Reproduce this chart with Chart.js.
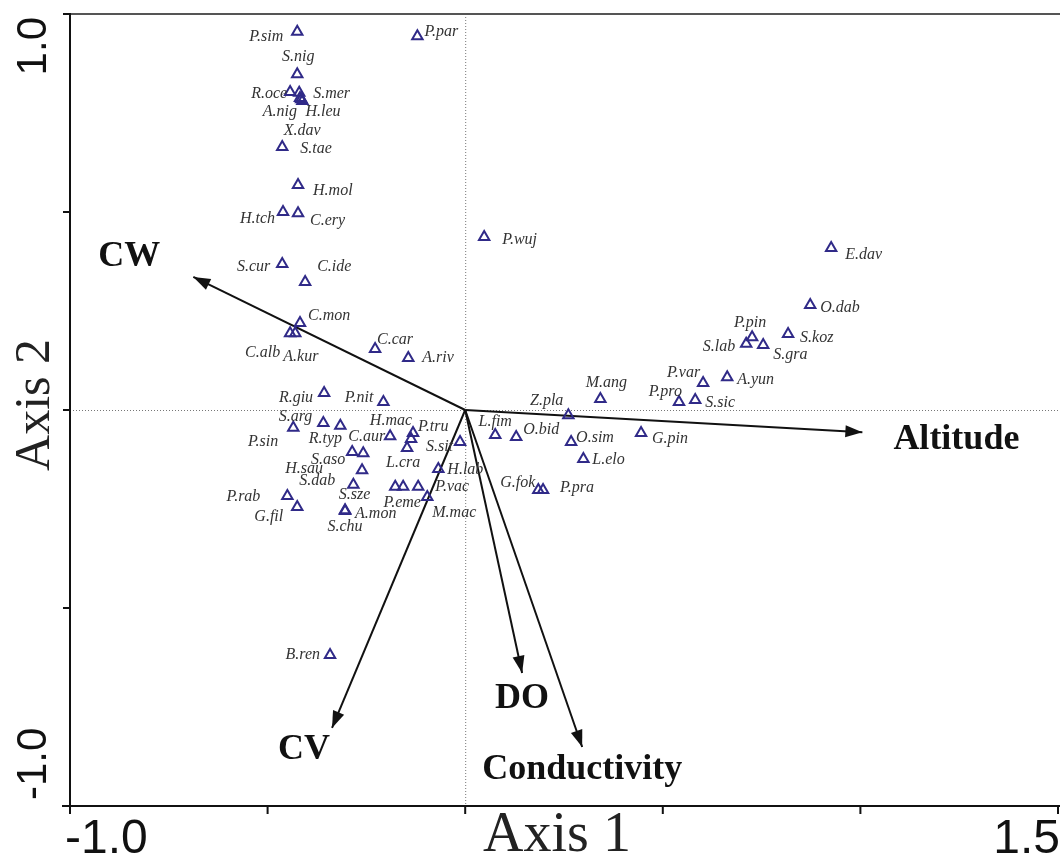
<!DOCTYPE html>
<html>
<head>
<meta charset="utf-8">
<script src="https://cdn.jsdelivr.net/npm/chart.js"></script>
<style>
  html, body { margin: 0; padding: 0; background: #fff; }
  canvas { display: block; }
</style>
</head>
<body>
<canvas id="cca" width="1060" height="862"></canvas>
<script>
// species scores (axis 1, axis 2)
const speciesNames = [
  'P.sim', 'P.par', 'S.nig', 'R.oce', 'S.mer', 'A.nig', 'H.leu', 'X.dav', 'S.tae', 'H.mol',
  'H.tch', 'C.ery', 'S.cur', 'C.ide', 'C.mon', 'C.alb', 'A.kur', 'C.car', 'A.riv', 'R.giu',
  'P.nit', 'P.sin', 'S.arg', 'R.typ', 'C.aur', 'H.mac', 'P.tru', 'L.cra', 'S.sit', 'S.aso',
  '', 'H.sau', 'S.dab', 'H.lab', 'S.sze', 'P.eme', 'P.vac', 'M.mac', 'P.rab', 'G.fil',
  'A.mon', 'S.chu', 'B.ren', 'P.wuj', 'E.dav', 'O.dab', 'P.pin', 'S.lab', 'S.gra', 'S.koz',
  'P.var', 'A.yun', 'M.ang', 'P.pro', 'S.sic', 'Z.pla', 'L.fim', 'O.bid', 'O.sim', 'G.pin',
  'L.elo', 'G.fok', 'P.pra'
];
const speciesX = [
  -0.425, -0.121, -0.425, -0.443, -0.420, -0.418, -0.412, -0.415, -0.463, -0.423,
  -0.461, -0.423, -0.463, -0.405, -0.418, -0.443, -0.430, -0.228, -0.144, -0.357,
  -0.207, -0.435, -0.359, -0.316, -0.190, -0.132, -0.137, -0.147, -0.013, -0.286,
  -0.258, -0.261, -0.283, -0.068, -0.177, -0.157, -0.119, -0.096, -0.450, -0.425,
  -0.304, -0.304, -0.342, 0.048, 0.926, 0.873, 0.726, 0.711, 0.754, 0.817,
  0.602, 0.663, 0.342, 0.541, 0.582, 0.261, 0.076, 0.129, 0.268, 0.445,
  0.299, 0.185, 0.197
];
const speciesY = [
  0.955, 0.944, 0.848, 0.803, 0.801, 0.788, 0.780, 0.785, 0.664, 0.568,
  0.500, 0.497, 0.369, 0.323, 0.220, 0.194, 0.194, 0.154, 0.131, 0.043,
  0.020, -0.045, -0.033, -0.040, -0.066, -0.058, -0.073, -0.096, -0.081, -0.106,
  -0.109, -0.152, -0.189, -0.149, -0.194, -0.194, -0.194, -0.220, -0.217, -0.245,
  -0.253, -0.255, -0.619, 0.437, 0.409, 0.265, 0.184, 0.167, 0.164, 0.192,
  0.068, 0.083, 0.028, 0.020, 0.025, -0.013, -0.063, -0.068, -0.081, -0.058,
  -0.124, -0.202, -0.202
];

// environmental vectors
const envNames = ['CW', 'Altitude', 'CV', 'DO', 'Conductivity'];
const envX = [-0.688, 1.005, -0.337, 0.144, 0.296];
const envY = [0.336, -0.056, -0.803, -0.664, -0.851];

const xTicks = [-1.0, -0.5, 0, 0.5, 1.0, 1.5];
const yTicks = [-1.0, -0.5, 0, 0.5, 1.0];
const xTickLabels = ['-1.0', '', '', '', '', '1.5'];
const yTickLabels = ['-1.0', '', '', '', '1.0'];

// label placement: [align, dx, dy] in pixels from the point
const labelPlace = [
  ['r', -14, 5], ['l', 7, -4], ['c', 1, -17], ['r', -3, 2], ['l', 14, 1], ['r', -3, 14], ['l', 3, 11], ['c', 1, 32], ['l', 18, 2], ['l', 15, 6],
  ['r', -8, 7], ['l', 12, 8], ['r', -12, 3], ['l', 12, -15], ['l', 8, -7], ['r', -10, 20], ['l', -12, 24], ['l', 2, -9], ['l', 14, 0], ['r', -11, 5],
  ['r', -10, -4], ['r', -15, 14], ['r', -11, -6], ['c', -15, 13], ['r', -5, 1], ['r', -1, -12], ['l', 7, -12], ['c', -4, 15], ['r', -7, 5], ['r', -7, 8],
  ['c', 0, 0], ['r', -39, -1], ['r', -18, -4], ['l', 9, 1], ['r', -25, 8], ['c', -1, 16], ['l', 17, 0], ['l', 5, 16], ['r', -27, 1], ['r', -14, 10],
  ['l', 10, 4], ['c', 0, 16], ['r', -10, 0], ['l', 18, 3], ['l', 14, 7], ['l', 10, 3], ['c', -2, -14], ['r', -11, 3], ['l', 10, 10], ['l', 12, 4],
  ['r', -3, -10], ['l', 10, 3], ['c', 6, -16], ['r', 3, -10], ['l', 10, 3], ['r', -5, -14], ['c', 0, -13], ['l', 7, -7], ['l', 5, -4], ['l', 11, 6],
  ['l', 9, 1], ['r', -3, -7], ['l', 17, -2]
];
const envLabelPlace = [[-64, -20], [94, 8], [-28, 22], [0, 26], [0, 23]];

const SERIF = '"Liberation Serif", "Times New Roman", serif';
const SANS = '"Liberation Sans Narrow", "Liberation Sans", Arial, sans-serif';

const arrowSets = envNames.map((n, i) => ({
  type: 'line',
  label: n,
  data: [{ x: 0, y: 0 }, { x: envX[i], y: envY[i] }],
  borderColor: '#111',
  borderWidth: 2,
  pointRadius: 0,
  fill: false,
  order: 2
}));

const biplotPlugin = {
  id: 'biplot',
  beforeDatasetsDraw(chart) {
    const { ctx, chartArea: a, scales: { x, y } } = chart;
    ctx.save();
    ctx.strokeStyle = '#777';
    ctx.lineWidth = 1;
    ctx.setLineDash([1, 2]);
    ctx.beginPath();
    ctx.moveTo(x.getPixelForValue(0) + 0.5, a.top);
    ctx.lineTo(x.getPixelForValue(0) + 0.5, a.bottom);
    ctx.moveTo(a.left, y.getPixelForValue(0) + 0.5);
    ctx.lineTo(a.right, y.getPixelForValue(0) + 0.5);
    ctx.stroke();
    ctx.restore();
  },
  afterDatasetsDraw(chart) {
    const { ctx, chartArea: a, scales: { x, y } } = chart;
    const W = chart.width;
    ctx.save();

    // arrow heads
    const ox = x.getPixelForValue(0), oy = y.getPixelForValue(0);
    ctx.fillStyle = '#111';
    envNames.forEach((n, i) => {
      const tx = x.getPixelForValue(envX[i]), ty = y.getPixelForValue(envY[i]);
      const ang = Math.atan2(ty - oy, tx - ox);
      const L = 17, H = 6;
      ctx.beginPath();
      ctx.moveTo(tx, ty);
      ctx.lineTo(tx - L * Math.cos(ang) + H * Math.sin(ang), ty - L * Math.sin(ang) - H * Math.cos(ang));
      ctx.lineTo(tx - L * Math.cos(ang) - H * Math.sin(ang), ty - L * Math.sin(ang) + H * Math.cos(ang));
      ctx.closePath();
      ctx.fill();
      ctx.font = 'bold 36px ' + SERIF;
      ctx.textAlign = 'center';
      ctx.textBaseline = 'middle';
      ctx.fillText(n, tx + envLabelPlace[i][0], ty + envLabelPlace[i][1]);
    });

    // species labels
    ctx.font = 'italic 16px ' + SERIF;
    ctx.fillStyle = '#333';
    ctx.textBaseline = 'middle';
    speciesNames.forEach((n, i) => {
      if (!n) return;
      const p = labelPlace[i];
      ctx.textAlign = p[0] === 'l' ? 'left' : p[0] === 'r' ? 'right' : 'center';
      ctx.fillText(n, x.getPixelForValue(speciesX[i]) + p[1], y.getPixelForValue(speciesY[i]) + p[2]);
    });

    // frame and axes
    ctx.strokeStyle = '#555';
    ctx.lineWidth = 2;
    ctx.beginPath();
    ctx.moveTo(a.left, a.top);
    ctx.lineTo(W, a.top);
    ctx.stroke();

    ctx.strokeStyle = '#111';
    ctx.beginPath();
    ctx.moveTo(a.left, a.top);
    ctx.lineTo(a.left, a.bottom + 7);
    ctx.moveTo(a.left - 8, a.bottom);
    ctx.lineTo(W, a.bottom);
    yTicks.forEach(v => {
      const py = y.getPixelForValue(v);
      ctx.moveTo(a.left - 7, py);
      ctx.lineTo(a.left + 1, py);
    });
    xTicks.forEach(v => {
      const px = x.getPixelForValue(v);
      ctx.moveTo(px, a.bottom);
      ctx.lineTo(px, a.bottom + 8);
    });
    ctx.stroke();

    // tick labels
    ctx.fillStyle = '#111';
    ctx.font = '48px ' + SANS;
    ctx.textBaseline = 'middle';
    xTicks.forEach((v, i) => {
      if (!xTickLabels[i]) return;
      const px = x.getPixelForValue(v);
      if (i === 0) { ctx.textAlign = 'left'; ctx.fillText(xTickLabels[i], px - 5, 840); }
      else { ctx.textAlign = 'right'; ctx.fillText(xTickLabels[i], W, 840); }
    });
    ctx.font = '42px ' + SANS;
    yTicks.forEach((v, i) => {
      if (!yTickLabels[i]) return;
      const py = y.getPixelForValue(v);
      ctx.save();
      ctx.translate(34, py);
      ctx.rotate(-Math.PI / 2);
      if (i === 0) { ctx.textAlign = 'left'; ctx.fillText(yTickLabels[i], 6, 0); }
      else { ctx.textAlign = 'right'; ctx.fillText(yTickLabels[i], -3, 0); }
      ctx.restore();
    });

    // axis titles
    ctx.fillStyle = '#222';
    ctx.textAlign = 'center';
    ctx.font = '56px ' + SERIF;
    ctx.fillText('Axis 1', 557, 836);
    ctx.font = '50px ' + SERIF;
    ctx.save();
    ctx.translate(36, 405);
    ctx.rotate(-Math.PI / 2);
    ctx.fillText('Axis 2', 0, 0);
    ctx.restore();

    ctx.restore();
  }
};

new Chart(document.getElementById('cca'), {
  type: 'scatter',
  data: {
    datasets: [
      {
        label: 'species',
        data: speciesX.map((v, i) => ({ x: v, y: speciesY[i] })),
        pointStyle: 'triangle',
        radius: 6,
        borderColor: '#302a88',
        backgroundColor: 'rgba(255,255,255,0)',
        borderWidth: 2,
        order: 1
      },
      ...arrowSets
    ]
  },
  options: {
    responsive: false,
    animation: false,
    layout: { autoPadding: false, padding: { left: 70, right: 2, top: 14, bottom: 56 } },
    plugins: { legend: { display: false }, tooltip: { enabled: false } },
    scales: {
      x: { type: 'linear', min: -1.0, max: 1.5, display: false },
      y: { type: 'linear', min: -1.0, max: 1.0, display: false }
    }
  },
  plugins: [biplotPlugin]
});
</script>
</body>
</html>
